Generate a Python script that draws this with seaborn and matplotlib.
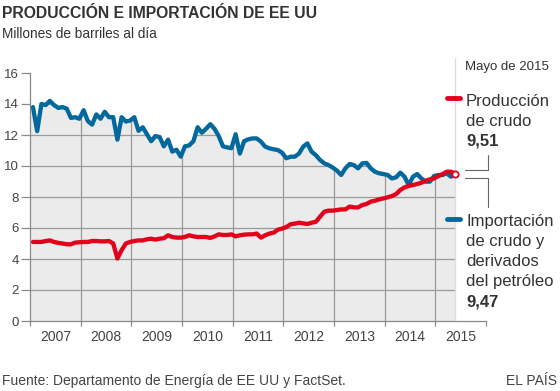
import matplotlib
matplotlib.use('Agg')
import matplotlib.pyplot as plt
from matplotlib.lines import Line2D
import numpy as np
import pandas as pd
import seaborn as sns

# Monthly series, Jan 2007 - May 2015 (millions of barrels per day)
months = pd.date_range('2007-01-01', '2015-05-01', freq='MS')
production = [
    5.10, 5.10, 5.10, 5.16, 5.20, 5.10, 5.04, 5.00, 4.95, 4.95, 5.06, 5.08,
    5.10, 5.10, 5.16, 5.16, 5.14, 5.14, 5.16, 5.00, 4.03, 4.57, 5.00, 5.10,
    5.16, 5.20, 5.20, 5.27, 5.31, 5.25, 5.31, 5.34, 5.53, 5.42, 5.38, 5.38,
    5.42, 5.53, 5.46, 5.42, 5.42, 5.42, 5.36, 5.46, 5.59, 5.55, 5.55, 5.59,
    5.46, 5.53, 5.57, 5.59, 5.59, 5.64, 5.38, 5.53, 5.64, 5.70, 5.89, 5.96,
    6.06, 6.24, 6.28, 6.34, 6.30, 6.26, 6.34, 6.40, 6.73, 7.05, 7.12, 7.12,
    7.16, 7.20, 7.20, 7.38, 7.33, 7.33, 7.48, 7.55, 7.70, 7.76, 7.85, 7.91,
    7.98, 8.06, 8.19, 8.45, 8.62, 8.71, 8.77, 8.84, 8.92, 9.05, 9.14, 9.20,
    9.35, 9.48, 9.63, 9.63, 9.51,
]
imports = [
    13.80, 12.25, 14.00, 13.93, 14.20, 13.93, 13.75, 13.80, 13.70, 13.10, 13.15, 13.05,
    13.60, 12.90, 12.67, 13.33, 13.05, 13.50, 13.15, 13.15, 11.70, 13.15, 12.87, 12.93,
    13.15, 12.27, 12.50, 12.05, 11.60, 11.93, 11.87, 11.27, 11.70, 10.93, 11.05, 10.60,
    11.27, 11.33, 11.60, 12.50, 12.15, 12.40, 12.70, 12.40, 11.93, 11.27, 11.20, 11.15,
    12.05, 10.80, 11.60, 11.72, 11.78, 11.78, 11.57, 11.25, 11.14, 11.08, 11.03, 10.86,
    10.50, 10.60, 10.60, 10.80, 11.25, 11.46, 10.92, 10.70, 10.39, 10.17, 10.06, 9.90,
    9.70, 9.42, 9.85, 10.13, 10.06, 9.85, 10.17, 10.20, 9.85, 9.63, 9.53, 9.48,
    9.42, 9.20, 9.27, 9.57, 9.31, 8.77, 9.31, 9.48, 9.20, 8.99, 8.99, 9.35,
    9.42, 9.42, 9.53, 9.31, 9.47,
]
year_ticks = list(range(2007, 2017))
year_labels = [str(y) for y in range(2007, 2016)]
y_ticks = [0, 2, 4, 6, 8, 10, 12, 14, 16]

RED = '#e2001a'
BLUE = '#03689c'
FILL = '#ebebeb'
GRID = '#9a9a9a'
TEXT = '#333333'

W, H = 560, 391


def fx(px):
    return px / W


def fy(py):
    return 1 - py / H


def main() -> None:
    x = months.year + (months.month - 1 + 0.7) / 12
    df = pd.DataFrame({
        'x': np.concatenate([x, x]),
        'valor': production + imports,
        'serie': ['prod'] * len(x) + ['imp'] * len(x),
    })

    sns.set_theme(style='white')
    plt.rcParams['font.family'] = ['Liberation Sans', 'DejaVu Sans']

    fig = plt.figure(figsize=(W / 100, H / 100), dpi=100)
    ax = fig.add_axes([fx(30), fy(321), fx(486) - fx(30), fy(73) - fy(321)])
    ax.set_facecolor('white')

    x_end = x[-1]
    top = np.maximum(np.array(production), np.array(imports))
    fill_x = np.concatenate([[2007.0], x])
    fill_top = np.concatenate([[top[0]], top])

    # gray area under the curves, gridlines only show inside it
    ax.fill_between(fill_x, 0, fill_top, color=FILL, lw=0, zorder=0)
    ax.hlines(y_ticks[1:], 2007, x_end, color=GRID, lw=0.9, zorder=1)
    ax.vlines(year_ticks[1:-1], 0, 16, color=GRID, lw=0.9, zorder=1)
    ax.fill_between(fill_x, fill_top, 17, color='white', lw=0, zorder=2)

    sns.lineplot(data=df, x='x', y='valor', hue='serie',
                 palette={'prod': RED, 'imp': BLUE}, hue_order=['imp', 'prod'],
                 lw=3.1, legend=False, ax=ax, zorder=4)
    ax.plot([x_end], [production[-1]], 'o', ms=4.5, mfc='white', mec=RED,
            mew=1.3, zorder=5)
    ax.plot([x_end, x_end], [0, 17.0], color='#dddddd', lw=0.9, zorder=3,
            clip_on=False)

    ax.set_xlim(2007, 2016)
    ax.set_ylim(0, 16)
    for s in ['top', 'right']:
        ax.spines[s].set_visible(False)
    for s in ['left', 'bottom']:
        ax.spines[s].set_color('#8a8a8a')
        ax.spines[s].set_linewidth(0.9)
        ax.spines[s].set_zorder(6)

    ax.set_yticks(y_ticks)
    ax.set_yticklabels([str(v) for v in y_ticks])
    ax.tick_params(axis='y', left=True, length=6.5, width=0.9, color='#8a8a8a',
                   pad=1.5, labelsize=9.5, labelcolor='#444444')
    ax.set_xticks(year_ticks)
    ax.set_xticklabels([])
    ax.set_xticks([y + 0.5 for y in range(2007, 2016)], minor=True)
    ax.set_xticklabels(year_labels, minor=True)
    ax.tick_params(axis='x', which='major', bottom=True, length=3.5, width=0.9,
                   color='#8a8a8a')
    ax.tick_params(axis='x', which='minor', bottom=True, length=0, pad=6.5,
                   labelsize=10, labelcolor='#444444')
    ax.set_xlabel('')
    ax.set_ylabel('')

    # titles and footer
    fig.text(fx(2), fy(18.5), 'PRODUCCIÓN E IMPORTACIÓN DE EE UU',
             family=['Liberation Sans', 'DejaVu Sans'], weight='bold',
             fontsize=11.3, color=TEXT, va='baseline')
    fig.text(fx(2), fy(38.5), 'Millones de barriles al día', fontsize=9.8,
             color=TEXT, va='baseline')
    fig.text(fx(2), fy(385), 'Fuente: Departamento de Energía de EE UU y FactSet.',
             fontsize=10, color='#444444', va='baseline')
    fig.text(fx(557), fy(385), 'EL PAÍS', fontsize=10, color='#444444',
             va='baseline', ha='right')

    # right-hand labels
    fig.text(fx(465), fy(70), 'Mayo de 2015', fontsize=9.5, color=TEXT,
             va='baseline')
    for i, line in enumerate(['Producción', 'de crudo']):
        fig.text(fx(466), fy(105.7 + 20 * i), line, fontsize=12, color=TEXT,
                 va='baseline')
    fig.text(fx(466), fy(146), '9,51', fontsize=12, weight='bold', color=TEXT,
             va='baseline')
    for i, line in enumerate(['Importación', 'de crudo y', 'derivados',
                              'del petróleo']):
        fig.text(fx(466), fy(225.7 + 20 * i), line, fontsize=12, color=TEXT,
                 va='baseline')
    fig.text(fx(466), fy(306.5), '9,47', fontsize=12, weight='bold', color=TEXT,
             va='baseline')

    fig.add_artist(Line2D([fx(447), fx(460)], [fy(98), fy(98)], color=RED,
                          lw=3.5, solid_capstyle='round'))
    fig.add_artist(Line2D([fx(447), fx(460)], [fy(219), fy(219)], color=BLUE,
                          lw=3.5, solid_capstyle='round'))

    # brackets linking labels to line ends
    fig.add_artist(Line2D([fx(465), fx(488), fx(488)],
                          [fy(170), fy(170), fy(155)], color='#666666', lw=0.8))
    fig.add_artist(Line2D([fx(465), fx(488), fx(488)],
                          [fy(178), fy(178), fy(207)], color='#666666', lw=0.8))

    fig.savefig('out.png', dpi=100, facecolor='white')
    plt.close(fig)


if __name__ == '__main__':
    main()
